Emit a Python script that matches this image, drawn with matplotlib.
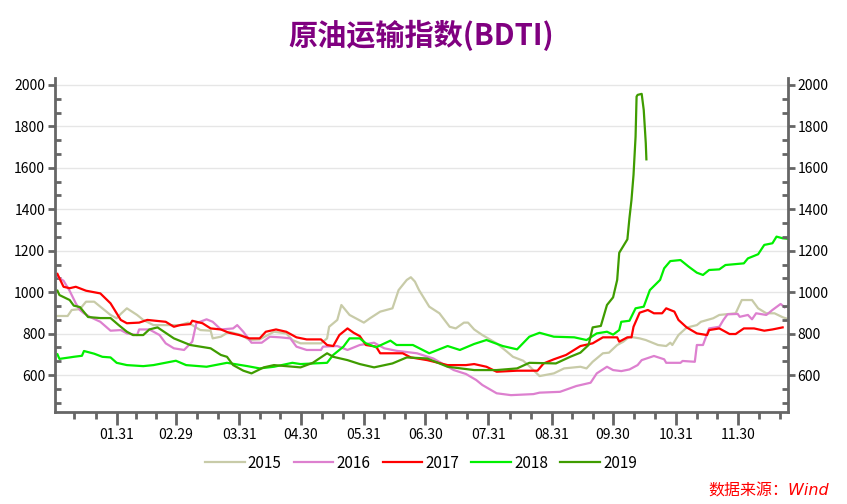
# BDTI crude tanker index, 2015-2019 seasonal comparison
import numpy as np
import matplotlib
matplotlib.use('Agg')
import matplotlib.pyplot as plt
from matplotlib.ticker import FixedLocator

plt.rcParams['font.family'] = ['Noto Sans CJK SC', 'DejaVu Sans']

# day of year (leap-year axis) and index values
d2015 = [2, 7, 9, 13, 16, 20, 23, 28, 31, 33, 36, 41, 44, 49, 55, 62, 66, 72, 77, 78, 82, 86, 92, 96,
         101, 108, 114, 117, 121, 131, 134, 135, 139, 141, 145, 152, 155, 160, 163, 166, 169, 173,
         175, 177, 179, 184, 189, 194, 197, 201, 203, 206, 210, 217, 222, 225, 230, 233, 238, 245,
         250, 258, 261, 264, 269, 272, 276, 279, 282, 287, 290, 296, 300, 302, 303, 306, 310, 315,
         317, 323, 326, 334, 337, 342, 345, 349, 353, 357, 360]
v2015 = [885, 885, 914, 918, 954, 954, 930, 890, 874, 895, 922, 890, 866, 841, 841, 841, 853, 817, 814,
         777, 785, 809, 793, 769, 772, 809, 801, 769, 753, 753, 777, 833, 866, 938, 890, 853, 874, 906,
         914, 922, 1010, 1059, 1072, 1051, 1010, 930, 898, 833, 825, 853, 853, 820, 793, 753, 713, 688,
         669, 643, 595, 608, 632, 640, 632, 664, 705, 708, 745, 761, 785, 777, 769, 745, 740, 756, 745,
         793, 829, 841, 857, 874, 890, 898, 962, 962, 922, 898, 898, 879, 869]

d2016 = [2, 3, 5, 8, 11, 13, 15, 18, 23, 28, 33, 36, 41, 42, 47, 52, 55, 59, 64, 68, 70, 75, 78, 82, 88,
         90, 93, 97, 102, 106, 111, 116, 119, 124, 131, 132, 139, 144, 150, 157, 162, 168, 178, 186,
         196, 202, 207, 210, 217, 224, 235, 238, 248, 256, 263, 266, 271, 274, 278, 282, 286, 288,
         294, 299, 300, 307, 308, 314, 315, 318, 321, 326, 328, 330, 335, 336, 340, 342, 344, 349,
         352, 356, 358]
v2016 = [1078, 1067, 1055, 1006, 946, 914, 898, 880, 857, 814, 817, 801, 793, 820, 820, 793, 753, 729,
         721, 761, 850, 869, 857, 820, 825, 841, 809, 756, 756, 785, 782, 777, 737, 721, 721, 737, 740,
         721, 745, 756, 729, 717, 705, 680, 624, 605, 576, 552, 512, 503, 508, 515, 519, 547, 563, 608,
         640, 624, 619, 627, 648, 672, 692, 676, 659, 659, 668, 664, 745, 745, 825, 833, 866, 893, 895,
         881, 890, 869, 898, 890, 914, 943, 927]

d2017 = [2, 3, 5, 8, 11, 16, 23, 28, 30, 33, 36, 42, 46, 55, 59, 62, 67, 68, 73, 77, 82, 86, 91, 96,
         101, 104, 109, 114, 119, 124, 131, 134, 137, 140, 144, 147, 150, 153, 158, 160, 171, 175,
         183, 193, 202, 206, 212, 217, 227, 237, 240, 245, 251, 258, 264, 269, 276, 277, 281, 283,
         284, 287, 291, 294, 298, 300, 304, 306, 310, 315, 320, 321, 326, 331, 334, 338, 343, 348,
         352, 357]
v2017 = [1088, 1067, 1026, 1019, 1026, 1007, 994, 946, 914, 866, 850, 853, 866, 857, 833, 841, 846, 862,
         850, 825, 820, 804, 793, 777, 777, 809, 820, 809, 782, 772, 772, 745, 740, 793, 825, 804, 788,
         745, 737, 705, 705, 685, 672, 648, 648, 653, 640, 616, 621, 621, 656, 676, 697, 740, 753, 782,
         782, 761, 782, 782, 833, 901, 914, 898, 898, 922, 906, 866, 830, 801, 793, 817, 825, 798, 798,
         825, 825, 814, 820, 830]

d2018 = [2, 3, 8, 10, 14, 15, 20, 24, 28, 31, 36, 44, 49, 60, 65, 75, 85, 95, 101, 108, 117, 121, 134,
         137, 142, 145, 150, 153, 158, 165, 168, 176, 184, 193, 199, 206, 212, 220, 227, 233, 238,
         245, 255, 261, 266, 271, 274, 277, 278, 282, 285, 289, 292, 297, 299, 302, 307, 311, 315,
         318, 321, 326, 329, 338, 340, 345, 348, 352, 354, 357, 360]
v2018 = [700, 678, 685, 688, 693, 716, 703, 688, 685, 659, 648, 643, 648, 669, 648, 640, 659, 643, 632,
         640, 659, 653, 659, 697, 737, 777, 777, 753, 734, 766, 745, 745, 705, 740, 721, 750, 769, 740,
         724, 785, 804, 785, 782, 769, 801, 809, 795, 817, 857, 862, 922, 930, 1010, 1059, 1115, 1150,
         1155, 1123, 1094, 1083, 1107, 1110, 1131, 1139, 1163, 1183, 1228, 1236, 1268, 1260, 1257]

d2019 = [2, 3, 8, 10, 13, 17, 23, 28, 32, 36, 39, 44, 47, 51, 59, 67, 77, 82, 85, 88, 93, 97, 103, 108,
         121, 127, 134, 137, 144, 150, 157, 166, 173, 183, 193, 206, 217, 227, 233, 246, 253, 258,
         262, 264, 268, 271, 274, 276, 277, 281, 282, 283, 284, 285, 285.5, 286, 288, 289, 289.5,
         290, 290.3]
v2019 = [1007, 986, 962, 935, 928, 880, 875, 875, 841, 809, 793, 793, 820, 830, 777, 745, 729, 697, 688,
         648, 621, 608, 637, 648, 637, 659, 705, 688, 672, 653, 637, 656, 685, 680, 640, 624, 624, 632,
         659, 656, 688, 708, 745, 830, 837, 938, 975, 1059, 1190, 1255, 1357, 1445, 1566, 1750, 1944,
         1952, 1957, 1879, 1799, 1719, 1641]

years = ['2015', '2016', '2017', '2018', '2019']
colors = ['#c8cba8', '#dd80cf', '#ff0000', '#00f000', '#3f9c00']
series = [(d2015, v2015), (d2016, v2016), (d2017, v2017), (d2018, v2018), (d2019, v2019)]

month_end_days = [31, 60, 91, 121, 152, 182, 213, 244, 274, 305, 335]
month_end_labels = ['01.31', '02.29', '03.31', '04.30', '05.31', '06.30',
                    '07.31', '08.31', '09.30', '10.31', '11.30']

fig = plt.figure(figsize=(8.47, 5.04), dpi=100)
ax = fig.add_axes([0.0649, 0.1831, 0.8654, 0.6615])
ax2 = ax.twinx()

for (d, v), yr, c in zip(series, years, colors):
    ax.plot(d, v, color=c, lw=1.6, label=yr)

ax.set_xlim(0.8, 359.6)
ax.set_ylim(423, 2032)
ax2.set_ylim(423, 2032)

# x ticks: month ends, minors at thirds
minors = [31 - 20.67, 31 - 10.33]
for a, b in zip(month_end_days[:-1], month_end_days[1:]):
    minors += [a + (b - a) / 3, a + 2 * (b - a) / 3]
minors += [345.3, 355.6]
ax.set_xticks(month_end_days)
ax.set_xticklabels(month_end_labels)
ax.xaxis.set_minor_locator(FixedLocator(minors))

yt = np.arange(600, 2001, 200)
ym = np.arange(400, 2040, 200 / 3)
for a in (ax, ax2):
    a.set_yticks(yt)
    a.yaxis.set_minor_locator(FixedLocator(ym))

ax.grid(axis='y', which='major', color='#e6e6e6', lw=1)
ax.set_axisbelow(True)

gray = '#666666'
for a in (ax, ax2):
    for s in a.spines.values():
        s.set_visible(False)
ax.spines['left'].set_visible(True)
ax.spines['bottom'].set_visible(True)
ax2.spines['right'].set_visible(True)
for s in (ax.spines['left'], ax.spines['bottom'], ax2.spines['right']):
    s.set_color(gray)
    s.set_linewidth(2)

ax.tick_params(axis='x', which='major', direction='out', length=9, width=2, color=gray,
               labelsize=10, pad=3)
ax.tick_params(axis='x', which='minor', direction='out', length=5, width=2, color=gray)
ax.tick_params(axis='y', which='major', direction='out', length=5, width=2, color=gray,
               labelsize=10, pad=2)
ax.tick_params(axis='y', which='minor', direction='in', length=4, width=2, color=gray)
ax2.tick_params(axis='y', which='major', direction='out', length=5, width=2, color=gray,
                labelsize=10, pad=2)
ax2.tick_params(axis='y', which='minor', direction='in', length=4, width=2, color=gray)

fig.text(0.497, 0.93, '原油运输指数(BDTI)', ha='center', va='center',
         fontsize=21, fontweight='bold', color='#800080')

fig.legend(*ax.get_legend_handles_labels(), loc='center', bbox_to_anchor=(0.497, 0.081),
           ncol=5, frameon=False, fontsize=11, handlelength=2.6, handletextpad=0.2,
           columnspacing=0.8)

fig.text(0.979, 0.025, '数据来源：Wind', ha='right', va='center', fontsize=11.5,
         color='#ff0000', style='italic', family=['DejaVu Sans', 'Noto Sans CJK SC'])

fig.savefig('out.png', dpi=100)
